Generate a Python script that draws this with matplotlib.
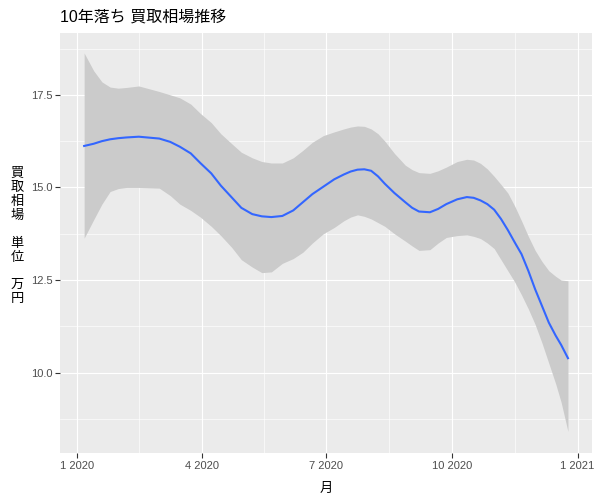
import datetime as dt
import matplotlib
matplotlib.use("Agg")
import matplotlib.pyplot as plt
import matplotlib.dates as mdates
from matplotlib.ticker import FuncFormatter, FixedLocator

plt.rcParams['font.family'] = ['Liberation Sans', 'Noto Sans CJK JP', 'DejaVu Sans']

# smoothed fit (loess) and its band
dates = ["2020-01-06", "2020-01-13", "2020-01-19", "2020-01-25", "2020-01-31",
         "2020-02-06", "2020-02-15", "2020-03-01", "2020-03-09", "2020-03-16",
         "2020-03-24", "2020-03-31", "2020-04-08", "2020-04-15", "2020-04-23",
         "2020-04-30", "2020-05-08", "2020-05-15", "2020-05-22", "2020-05-30",
         "2020-06-07", "2020-06-14", "2020-06-21", "2020-06-29", "2020-07-07",
         "2020-07-14", "2020-07-19", "2020-07-24", "2020-07-29", "2020-08-03",
         "2020-08-08", "2020-08-13", "2020-08-20", "2020-08-28", "2020-09-02",
         "2020-09-07", "2020-09-15", "2020-09-21", "2020-09-27", "2020-10-05",
         "2020-10-12", "2020-10-17", "2020-10-22", "2020-10-27", "2020-11-01",
         "2020-11-06", "2020-11-11", "2020-11-16", "2020-11-21", "2020-11-26",
         "2020-12-01", "2020-12-06", "2020-12-11", "2020-12-16", "2020-12-20",
         "2020-12-25"]
fit = [16.12, 16.18, 16.25, 16.30, 16.33,
       16.35, 16.37, 16.32, 16.23, 16.10,
       15.92, 15.66, 15.38, 15.05, 14.73,
       14.45, 14.28, 14.22, 14.20, 14.23,
       14.38, 14.60, 14.82, 15.02, 15.22,
       15.35, 15.43, 15.48, 15.49, 15.45,
       15.30, 15.10, 14.85, 14.60, 14.45,
       14.35, 14.33, 14.42, 14.55, 14.68,
       14.74, 14.72, 14.65, 14.55, 14.40,
       14.15, 13.85, 13.52, 13.20, 12.75,
       12.25, 11.80, 11.35, 11.00, 10.75,
       10.39]
upper = [18.63, 18.15, 17.85, 17.71, 17.68,
         17.70, 17.74, 17.59, 17.50, 17.42,
         17.25, 17.00, 16.75, 16.45, 16.18,
         15.95, 15.80, 15.70, 15.66, 15.66,
         15.80, 16.00, 16.22, 16.40, 16.50,
         16.58, 16.63, 16.66, 16.65, 16.58,
         16.45, 16.25, 15.92, 15.60, 15.48,
         15.40, 15.38, 15.45, 15.55, 15.70,
         15.76, 15.74, 15.65, 15.50, 15.30,
         15.08, 14.85, 14.50, 14.10, 13.68,
         13.30, 13.00, 12.75, 12.60, 12.50,
         12.48]
lower = [13.63, 14.13, 14.55, 14.89, 14.97,
         15.00, 15.00, 14.98, 14.78, 14.55,
         14.38, 14.20, 13.95, 13.70, 13.38,
         13.05, 12.85, 12.70, 12.72, 12.95,
         13.08, 13.25, 13.50, 13.75, 13.92,
         14.10, 14.20, 14.26, 14.22, 14.15,
         14.05, 13.95, 13.75, 13.55, 13.42,
         13.30, 13.32, 13.50, 13.65, 13.70,
         13.72, 13.68, 13.62, 13.50, 13.35,
         13.05, 12.75, 12.45, 12.10, 11.72,
         11.30, 10.80, 10.25, 9.70, 9.20,
         8.41]

x_breaks = ["2020-01-01", "2020-04-01", "2020-07-01", "2020-10-01", "2021-01-01"]
y_breaks = [10.0, 12.5, 15.0, 17.5]

x = [mdates.date2num(dt.date.fromisoformat(d)) for d in dates]
xb = [mdates.date2num(dt.date.fromisoformat(d)) for d in x_breaks]

fig = plt.figure(figsize=(6, 5), dpi=100)
ax = fig.add_axes([0.1, 0.094, 0.8867, 0.84])
ax.set_facecolor('#EBEBEB')

ax.fill_between(x, lower, upper, color='#CBCBCB', lw=0, zorder=2)
ax.plot(x, fit, color='#3366FF', lw=1.5, zorder=3)

ax.set_xlim(xb[0] - 12.66, xb[0] + 376.6)
ax.set_ylim(7.83, 19.17)

ax.xaxis.set_major_locator(FixedLocator(xb))
ax.xaxis.set_minor_locator(FixedLocator([(a + b) / 2 for a, b in zip(xb[:-1], xb[1:])]))
ax.xaxis.set_major_formatter(FuncFormatter(
    lambda v, p: f"{mdates.num2date(v).month} {mdates.num2date(v).year}"))
ax.yaxis.set_major_locator(FixedLocator(y_breaks))
ax.yaxis.set_minor_locator(FixedLocator([8.75, 11.25, 13.75, 16.25, 18.75]))
ax.yaxis.set_major_formatter(FuncFormatter(lambda v, p: f"{v:.1f}"))

ax.grid(which='major', color='white', lw=0.85, zorder=1)
ax.grid(which='minor', color='white', lw=0.45, zorder=1)
ax.set_axisbelow(True)
for s in ax.spines.values():
    s.set_visible(False)
ax.tick_params(which='major', length=3.5, width=0.8, color='#333333',
               labelsize=8, labelcolor='#4D4D4D', pad=2)
ax.tick_params(which='minor', length=0)

ax.set_xlabel("月", fontsize=9.5, labelpad=9)
ax.set_ylabel("買\n取\n相\n場\n\n単\n位\n\n万\n円", fontsize=9.5, rotation=0,
              va='center', ha='center', linespacing=1.2, labelpad=14)
ax.yaxis.set_label_coords(-0.081, 0.515)
fig.text(0.1, 0.966, "10年落ち 買取相場推移", fontsize=11.5, ha='left', va='center')

fig.savefig("out.png", dpi=100)
